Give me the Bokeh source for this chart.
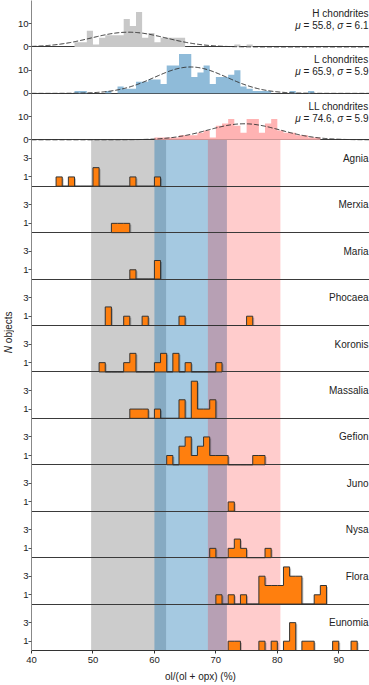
import numpy as np
from bokeh.plotting import figure
from bokeh.layouts import row
from bokeh.models import Range1d, FixedTicker, Label
from bokeh.embed import file_html
from bokeh.resources import INLINE

FONT = "Liberation Sans"

# ---------------- data ----------------
x_start, x_end = 40, 95
x_ticks = [40, 50, 60, 70, 80, 90]
x_label = "ol/(ol + opx) (%)"
y_label_italic = "N"
y_label_rest = "objects"
bin_width = 1

chondrite_names = ["H chondrites", "L chondrites", "LL chondrites"]
chondrite_mu = [55.8, 65.9, 74.6]
chondrite_sigma = [6.1, 5.9, 5.9]
chondrite_ticks = [0, 10]
chondrite_ymax = 20

h_bins = [47, 48, 49, 50, 51, 52, 53, 54, 55, 56, 57, 58, 59, 60, 61, 62, 63, 64, 73, 75]
h_counts = [2, 2, 7, 1, 4, 5, 5, 5, 12, 9, 15, 4, 6, 2, 4, 4, 4, 4, 1, 1]
l_bins = [47, 48, 52, 54, 55, 56, 57, 58, 59, 60, 61, 62, 63, 64, 65, 66, 67, 68, 69, 70,
          71, 72, 73, 74, 75, 76, 77, 78, 82, 85]
l_counts = [1, 1, 1, 3, 2, 2, 5, 5, 6, 6, 4, 12, 12, 17, 17, 7, 9, 12, 4, 7,
            7, 8, 10, 3, 2, 1, 1, 1, 1, 1]
ll_bins = [60, 61, 62, 63, 64, 65, 66, 67, 68, 69, 70, 71, 72, 73, 74, 75, 76, 77, 78, 79,
           80, 81, 82, 83, 84, 85, 86]
ll_counts = [1, 1, 1, 1, 2, 2, 2, 3, 4, 1, 6, 7, 9, 6, 3, 9, 9, 3, 7, 9,
             4, 3, 3, 2, 2, 1, 1]

asteroid_names = ["Agnia", "Merxia", "Maria", "Phocaea", "Koronis", "Massalia",
                  "Gefion", "Juno", "Nysa", "Flora", "Eunomia"]
asteroid_ticks = [1, 3]
asteroid_ymax = 5

agnia_bins = [44, 46, 50, 56, 60]
agnia_counts = [1, 1, 2, 1, 1]
merxia_bins = [53, 54, 55]
merxia_counts = [1, 1, 1]
maria_bins = [56, 60]
maria_counts = [1, 2]
phocaea_bins = [52, 55, 58, 64, 75]
phocaea_counts = [2, 1, 1, 1, 1]
koronis_bins = [51, 55, 56, 60, 61, 63, 65, 70]
koronis_counts = [1, 1, 2, 1, 2, 2, 1, 1]
massalia_bins = [56, 57, 58, 60, 64, 66, 67, 68, 69]
massalia_counts = [1, 1, 1, 1, 2, 4, 1, 1, 2]
gefion_bins = [62, 64, 65, 66, 67, 68, 69, 70, 71, 76, 77]
gefion_counts = [1, 2, 3, 1, 2, 3, 1, 1, 1, 1, 1]
juno_bins = [72]
juno_counts = [1]
nysa_bins = [69, 72, 73, 74, 78]
nysa_counts = [1, 1, 2, 1, 1]
flora_bins = [70, 72, 74, 77, 78, 79, 80, 81, 82, 83, 86, 87]
flora_counts = [1, 1, 1, 3, 2, 2, 2, 4, 3, 3, 1, 2]
eunomia_bins = [72, 73, 77, 79, 81, 82, 84, 85, 89, 92]
eunomia_counts = [1, 1, 1, 1, 1, 3, 1, 1, 1, 1]

# ---------------- styles ----------------
chondrite_fill = ["#c8c8c8", "#8fbbd9", "#ffb3b3"]
band_colors = ["#808080", "#1f77b4", "#ff0000"]
band_alphas = [0.4, 0.4, 0.2]
orange = "#ff7f0e"
edge = "#333333"
sep_color = "#3a3a3a"
text_color = "#222222"
shadow_dx_px, shadow_dy_px = 1.5, 1.5

chondrite_data = [(h_bins, h_counts), (l_bins, l_counts), (ll_bins, ll_counts)]
asteroid_data = [(agnia_bins, agnia_counts), (merxia_bins, merxia_counts),
                 (maria_bins, maria_counts), (phocaea_bins, phocaea_counts),
                 (koronis_bins, koronis_counts), (massalia_bins, massalia_counts),
                 (gefion_bins, gefion_counts), (juno_bins, juno_counts),
                 (nysa_bins, nysa_counts), (flora_bins, flora_counts),
                 (eunomia_bins, eunomia_counts)]

n_panels = len(chondrite_names) + len(asteroid_names)
unit = asteroid_ymax  # main y units per panel
main_top = n_panels * unit

TOTAL_W = 369
TOTAL_H = 685
BOTTOM = 35
LABEL_W = 14
LEFT = 16

frame_w = TOTAL_W - LABEL_W - LEFT
frame_h = TOTAL_H - BOTTOM
px_per_x = frame_w / (x_end - x_start)
px_per_count = frame_h / (n_panels * asteroid_ymax)


def step_polygon(bins, counts):
    lo, hi = min(bins), max(bins) + bin_width
    dense = dict(zip(bins, counts))
    xs, ys = [lo], [0]
    b = lo
    while b < hi:
        c = dense.get(b, 0)
        xs += [b, b + bin_width]
        ys += [c, c]
        b += bin_width
    xs.append(hi)
    ys.append(0)
    return xs, ys


W = {str(d): 0.556 for d in range(10)}
W.update({".": 0.278, ",": 0.278, "=": 0.584, " ": 0.278})


def tw(s, size):
    return sum(W[c] for c in s) * size


p = figure(width=TOTAL_W - LABEL_W, height=TOTAL_H, x_range=Range1d(x_start, x_end),
           y_range=Range1d(0, main_top), output_backend="svg", toolbar_location=None,
           min_border_left=LEFT, min_border_right=0, min_border_top=0, min_border_bottom=BOTTOM)
p.outline_line_color = None
p.xgrid.visible = False
p.ygrid.visible = False
p.background_fill_color = "white"

# bands over asteroid panels (mu +/- sigma)
n_ast = len(asteroid_names)
for mu, s, col, a in zip(chondrite_mu, chondrite_sigma, band_colors, band_alphas):
    p.quad(left=[mu - s], right=[mu + s], bottom=[0], top=[n_ast * unit],
           fill_color=col, fill_alpha=a, line_color=None)

ticks = []
overrides = {}
lab_size = 10

# asteroid shadows first (under separators)
for j, (name, (bins, counts)) in enumerate(zip(asteroid_names, asteroid_data)):
    i = len(chondrite_names) + j
    k = n_panels - 1 - i
    rn = f"a{j}"
    p.extra_y_ranges[rn] = Range1d(-asteroid_ymax * k, asteroid_ymax * (n_panels - k))
    xs, ys = step_polygon(bins, counts)
    sx = [v + shadow_dx_px / px_per_x for v in xs]
    sy = [max(v, 0) - shadow_dy_px / px_per_count if v > 0 else v for v in ys]
    p.patch(sx, sy, fill_color="#000000", fill_alpha=0.22, line_color=None, y_range_name=rn)

# separators
p.hspan(y=[k * unit for k in range(1, n_panels)], line_color=sep_color, line_width=1)

# chondrite panels
for i, (name, mu, s, col, (bins, counts)) in enumerate(
        zip(chondrite_names, chondrite_mu, chondrite_sigma, chondrite_fill, chondrite_data)):
    k = n_panels - 1 - i
    rn = f"c{i}"
    p.extra_y_ranges[rn] = Range1d(-chondrite_ymax * k, chondrite_ymax * (n_panels - k))
    xs, ys = step_polygon(bins, counts)
    p.patch(xs, ys, fill_color=col, line_color=None, y_range_name=rn)
    gx = np.linspace(x_start, x_end, 400)
    amp = sum(counts) * bin_width
    gy = amp * np.exp(-(gx - mu) ** 2 / (2 * s ** 2)) / (s * np.sqrt(2 * np.pi))
    p.line(gx, gy, line_color="#333333", line_width=1, line_dash="5 2", y_range_name=rn)
    for t in chondrite_ticks:
        pos = float(k * unit + t * unit / chondrite_ymax)
        ticks.append(pos)
        overrides[pos] = str(t)
    common = dict(x=x_end, y_range_name=rn, text_font=FONT, text_font_size=f"{lab_size}px",
                  text_color=text_color, text_align="right", text_baseline="alphabetic")
    p.add_layout(Label(y=14.4, text=name, x_offset=-1, **common))
    s_sig = f"= {s}"
    s_mu = f"= {mu},"
    off1 = -1 - tw(s_sig, lab_size) - tw(" ", lab_size)
    off2 = off1 - 0.6 * lab_size - tw(" ", lab_size)
    off3 = off2 - tw(s_mu, lab_size) - tw(" ", lab_size)
    p.add_layout(Label(y=9.3, text=s_sig, x_offset=-1, **common))
    p.add_layout(Label(y=9.3, text="σ", x_offset=off1, text_font_style="italic", **common))
    p.add_layout(Label(y=9.3, text=s_mu, x_offset=off2, **common))
    p.add_layout(Label(y=9.3, text="μ", x_offset=off3, text_font_style="italic", **common))

# asteroid panels
for j, (name, (bins, counts)) in enumerate(zip(asteroid_names, asteroid_data)):
    i = len(chondrite_names) + j
    k = n_panels - 1 - i
    rn = f"a{j}"
    xs, ys = step_polygon(bins, counts)
    p.patch(xs, ys, fill_color=orange, line_color=edge, line_width=1, y_range_name=rn)
    for t in asteroid_ticks:
        pos = float(k * unit + t * unit / asteroid_ymax)
        ticks.append(pos)
        overrides[pos] = str(t)
    p.add_layout(Label(x=x_end, y=3.0, y_range_name=rn, text=name, x_offset=-1,
                       text_font=FONT, text_font_size=f"{lab_size}px", text_color=text_color,
                       text_align="right", text_baseline="alphabetic"))

# y axis
p.yaxis.ticker = FixedTicker(ticks=sorted(ticks))
p.yaxis.major_label_overrides = overrides
p.yaxis.minor_tick_line_color = None
p.yaxis.major_tick_in = 0
p.yaxis.major_tick_out = 3
p.yaxis.major_tick_line_color = "#555555"
p.yaxis.axis_line_color = "#888888"
p.yaxis.major_label_standoff = 0
p.yaxis.major_label_text_font = FONT
p.yaxis.major_label_text_font_size = "9.5px"
p.yaxis.major_label_text_color = text_color

# x axis
p.xaxis.ticker = FixedTicker(ticks=x_ticks)
p.xaxis.minor_tick_line_color = None
p.xaxis.major_tick_in = 0
p.xaxis.major_tick_out = 3
p.xaxis.major_tick_line_color = "#333333"
p.xaxis.axis_line_color = "#333333"
p.xaxis.major_label_standoff = 3
p.xaxis.major_label_text_font = FONT
p.xaxis.major_label_text_font_size = "9.5px"
p.xaxis.major_label_text_color = text_color
p.xaxis.axis_label = x_label
p.xaxis.axis_label_text_font = FONT
p.xaxis.axis_label_text_font_size = "10px"
p.xaxis.axis_label_text_font_style = "normal"
p.xaxis.axis_label_text_color = text_color
p.xaxis.axis_label_standoff = 5

# y label column: "N objects" with italic N
q = figure(width=LABEL_W, height=TOTAL_H, x_range=Range1d(0, LABEL_W),
           y_range=Range1d(0, main_top), output_backend="svg", toolbar_location=None,
           x_axis_type=None, y_axis_type=None,
           min_border_left=0, min_border_right=0, min_border_top=0, min_border_bottom=BOTTOM)
q.outline_line_color = None
q.xgrid.visible = False
q.ygrid.visible = False
ylab_y = 32.8
ylab_gap = 0.3
ylab_x = 8
q.add_layout(Label(x=ylab_x, y=ylab_y, text=y_label_italic, angle=np.pi / 2,
                   text_font=FONT, text_font_size="10px", text_font_style="italic",
                   text_color=text_color, text_align="right", text_baseline="middle"))
q.add_layout(Label(x=ylab_x, y=ylab_y + ylab_gap, text=y_label_rest, angle=np.pi / 2,
                   text_font=FONT, text_font_size="10px",
                   text_color=text_color, text_align="left", text_baseline="middle"))

layout = row(q, p)
open("out.html", "w").write(file_html(layout, INLINE))
